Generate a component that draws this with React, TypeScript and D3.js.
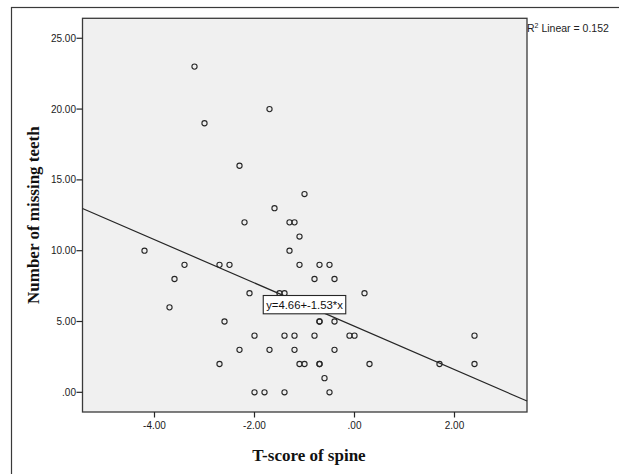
import React from "react";
import * as d3 from "d3";

const tScore: number[] = [
  -3.2, -1.7, -3.0, -2.3, -1.0, -1.6, -2.2, -1.3, -1.2, -1.1,
  -4.2, -1.3, -3.4, -2.7, -2.5, -1.1, -0.7, -0.5, -3.6, -0.8,
  -0.4, -2.1, -1.5, -1.4, 0.2, -3.7, -2.6, -0.7, -0.7, -0.4,
  -2.0, -1.4, -1.2, -0.8, -0.1, 0.0, 2.4, -2.3, -1.7, -1.2,
  -0.4, -2.7, -1.1, -1.0, -0.7, -0.7, 0.3, 1.7, 2.4, -0.6,
  -2.0, -1.8, -1.4, -0.5,
];
const missingTeeth: number[] = [
  23, 20, 19, 16, 14, 13, 12, 12, 12, 11,
  10, 10, 9, 9, 9, 9, 9, 9, 8, 8,
  8, 7, 7, 7, 7, 6, 5, 5, 5, 5,
  4, 4, 4, 4, 4, 4, 4, 3, 3, 3,
  3, 2, 2, 2, 2, 2, 2, 2, 2, 1,
  0, 0, 0, 0,
];

const xTicks: number[] = [-4, -2, 0, 2];
const yTicks: number[] = [0, 5, 10, 15, 20, 25];
const xDomain: [number, number] = [-5.44, 3.45];
const yDomain: [number, number] = [-1.39, 26.41];

const intercept = 4.66;
const slope = -1.53;
const rSquared = 0.152;
const equationAnchorX = -1.0;

const xTitle = "T-score of spine";
const yTitle = "Number of missing teeth";

const fmt = (v: number) => {
  const s = v.toFixed(2);
  if (s.startsWith("0.")) return s.slice(1);
  if (s.startsWith("-0.")) return "-" + s.slice(2);
  return s;
};

export default function App() {
  const W = 619;
  const H = 474;
  const left = 82.5;
  const right = 527;
  const top = 18.3;
  const bottom = 412;

  const x = d3.scaleLinear().domain(xDomain).range([left, right]);
  const y = d3.scaleLinear().domain(yDomain).range([bottom, top]);

  const fitLine = d3
    .line<number>()
    .x((d) => x(d))
    .y((d) => y(intercept + slope * d));

  const eqY = intercept + slope * equationAnchorX;
  const eqW = 82.5;
  const eqH = 18.3;

  const tickFont = "'Liberation Sans', Arial, sans-serif";
  const titleFont = "'Liberation Serif', 'Times New Roman', serif";
  const dark = "#262626";

  return (
    <svg
      width={W}
      height={H}
      style={{ position: "absolute", left: 0, top: 0, background: "#fff" }}
    >
      <rect x={11.5} y={7.5} width={700} height={600} fill="#fff" stroke="#3a3a3a" strokeWidth={1.2} />
      <rect
        x={left}
        y={top}
        width={right - left}
        height={bottom - top}
        fill="#f0f0f0"
        stroke="#3a3a3a"
        strokeWidth={1.3}
      />
      {yTicks.map((t) => (
        <g key={"y" + t}>
          <line x1={left - 6} x2={left} y1={y(t)} y2={y(t)} stroke={dark} strokeWidth={1.2} />
          <text
            x={left - 6.5}
            y={y(t)}
            dy="0.35em"
            textAnchor="end"
            fontFamily={tickFont}
            fontSize={10}
            fill="#1a1a1a"
          >
            {fmt(t)}
          </text>
        </g>
      ))}
      {xTicks.map((t) => (
        <g key={"x" + t}>
          <line x1={x(t)} x2={x(t)} y1={bottom} y2={bottom + 5.5} stroke={dark} strokeWidth={1.2} />
          <text
            x={x(t)}
            y={bottom + 17}
            textAnchor="middle"
            fontFamily={tickFont}
            fontSize={10}
            fill="#1a1a1a"
          >
            {fmt(t)}
          </text>
        </g>
      ))}
      <path d={fitLine(xDomain) || ""} fill="none" stroke={dark} strokeWidth={1.2} />
      {tScore.map((v, i) => (
        <circle
          key={i}
          cx={x(v)}
          cy={y(missingTeeth[i])}
          r={2.6}
          fill="none"
          stroke={dark}
          strokeWidth={1.1}
        />
      ))}
      <rect
        x={x(equationAnchorX) - eqW / 2}
        y={y(eqY) - eqH / 2}
        width={eqW}
        height={eqH}
        fill="#fff"
        stroke={dark}
        strokeWidth={1.1}
      />
      <text
        x={x(equationAnchorX)}
        y={y(eqY)}
        dy="0.36em"
        textAnchor="middle"
        fontFamily={tickFont}
        fontSize={11.3}
        fill="#111"
      >
        {`y=${intercept}+${slope}*x`}
      </text>
      <text x={right} y={32} fontFamily={tickFont} fontSize={10.5} fill="#222">
        R<tspan dy={-4} fontSize={7}>2</tspan>
        <tspan dy={4}>{` Linear = ${rSquared}`}</tspan>
      </text>
      <text
        x={309}
        y={461}
        textAnchor="middle"
        fontFamily={titleFont}
        fontWeight="bold"
        fontSize={17}
        fill="#111"
      >
        {xTitle}
      </text>
      <text
        transform={`translate(38.5, ${(top + bottom) / 2}) rotate(-90)`}
        textAnchor="middle"
        fontFamily={titleFont}
        fontWeight="bold"
        fontSize={17}
        fill="#111"
      >
        {yTitle}
      </text>
    </svg>
  );
}
